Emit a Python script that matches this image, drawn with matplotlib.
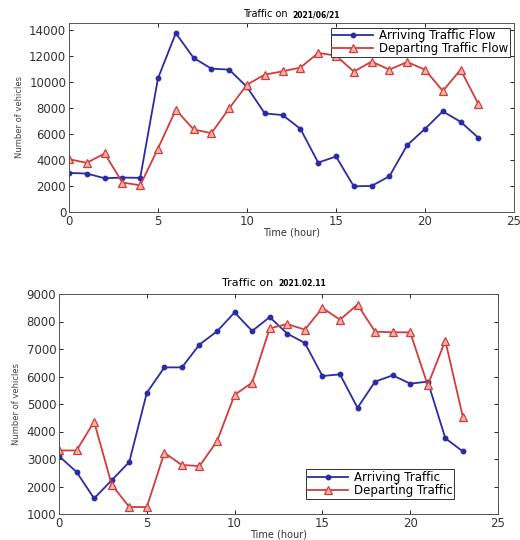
# -*- coding:utf-8 -*-

import numpy as np
import matplotlib
matplotlib.use('Agg')
import matplotlib.pyplot as plt

#############################################################################

hours = list(range(24))

# 2021/06/21
arr_jun = [3000, 2950, 2590, 2640, 2620, 10260, 13720, 11820, 11000, 10920,
           9590, 7560, 7440, 6380, 3790, 4260, 1970, 2000, 2740, 5130,
           6380, 7720, 6920, 5690]
dep_jun = [4050, 3770, 4490, 2260, 2050, 4870, 7850, 6330, 6050, 7950,
           9770, 10540, 10790, 11080, 12200, 12000, 10770, 11540, 10920, 11510,
           10920, 9280, 10920, 8280]

# 2021.02.11
arr_feb = [3106, 2528, 1566, 2227, 2889, 5404, 6331, 6331, 7161, 7643,
           8329, 7655, 8160, 7558, 7221, 6018, 6078, 4863, 5813, 6042,
           5741, 5813, 3756, 3274]
dep_feb = [3310, 3310, 4357, 2071, 1253, 1253, 3226, 2781, 2745, 3647,
           5332, 5777, 7751, 7907, 7703, 8497, 8064, 8617, 7631, 7606,
           7606, 5681, 7306, 4526]

BLUE = '#2b2ba6'
RED = '#d23c3c'
TICK_COLOR = '#333333'

#############################################################################

W, H = 520, 540


def px(x, y):
    return x / W, 1 - y / H


def style_axes(ax):
    ax.tick_params(direction='in', top=True, right=True, length=3, pad=2,
                   labelsize=8.5, labelcolor=TICK_COLOR, width=0.6)
    for s in ax.spines.values():
        s.set_linewidth(0.7)
        s.set_color('#555555')
    ax.set_xlabel('Time (hour)', fontsize=7, color=TICK_COLOR, labelpad=0)
    ax.set_ylabel('Number of vehicles', fontsize=6, color='#444444', labelpad=4)


def plot_pair(ax, arr, dep, labels):
    ax.plot(hours, arr, color=BLUE, lw=1.3, marker='o', ms=3.2,
            mfc=BLUE, mec=BLUE, label=labels[0])
    ax.plot(hours, dep, color=RED, lw=1.3, marker='^', ms=6,
            mfc='#f4b6a6', mec=RED, mew=0.9, label=labels[1])


def add_legend(ax, **kw):
    leg = ax.legend(fontsize=8.5, handlelength=3.4, fancybox=False,
                    edgecolor='#333333', framealpha=1, borderpad=0.15,
                    labelspacing=0.0, handletextpad=0.5, borderaxespad=0, **kw)
    leg.get_frame().set_linewidth(0.7)
    return leg


fig = plt.figure(figsize=(5.2, 5.4), dpi=100)

# top chart
ax1 = fig.add_axes([69 / W, 1 - 212 / H, 445 / W, 189 / H])
plot_pair(ax1, arr_jun, dep_jun, ['Arriving Traffic Flow', 'Departing Traffic Flow'])
ax1.set_xlim(0, 25)
ax1.set_ylim(0, 14500)
ax1.set_xticks([0, 5, 10, 15, 20, 25])
ax1.set_yticks(np.arange(0, 14001, 2000))
style_axes(ax1)
add_legend(ax1, loc='upper right', bbox_to_anchor=(0.99, 0.975))

fig.text(*px(291, 14), 'Traffic on ', ha='right', va='center', fontsize=7)
fig.text(*px(292, 15), '2021/06/21', ha='left', va='center', fontsize=5.5,
         fontweight='bold')

# bottom chart
ax2 = fig.add_axes([59 / W, 1 - 514 / H, 439 / W, 220 / H])
plot_pair(ax2, arr_feb, dep_feb, ['Arriving Traffic', 'Departing Traffic'])
ax2.set_xlim(0, 25)
ax2.set_ylim(1000, 9000)
ax2.set_xticks([0, 5, 10, 15, 20, 25])
ax2.set_yticks(np.arange(1000, 9001, 1000))
style_axes(ax2)
add_legend(ax2, loc='lower right', bbox_to_anchor=(0.9, 0.07))

fig.text(*px(277, 283), 'Traffic on ', ha='right', va='center', fontsize=8)
fig.text(*px(278, 284), '2021.02.11', ha='left', va='center', fontsize=5.5,
         fontweight='bold')

fig.savefig('out.png', dpi=100)
